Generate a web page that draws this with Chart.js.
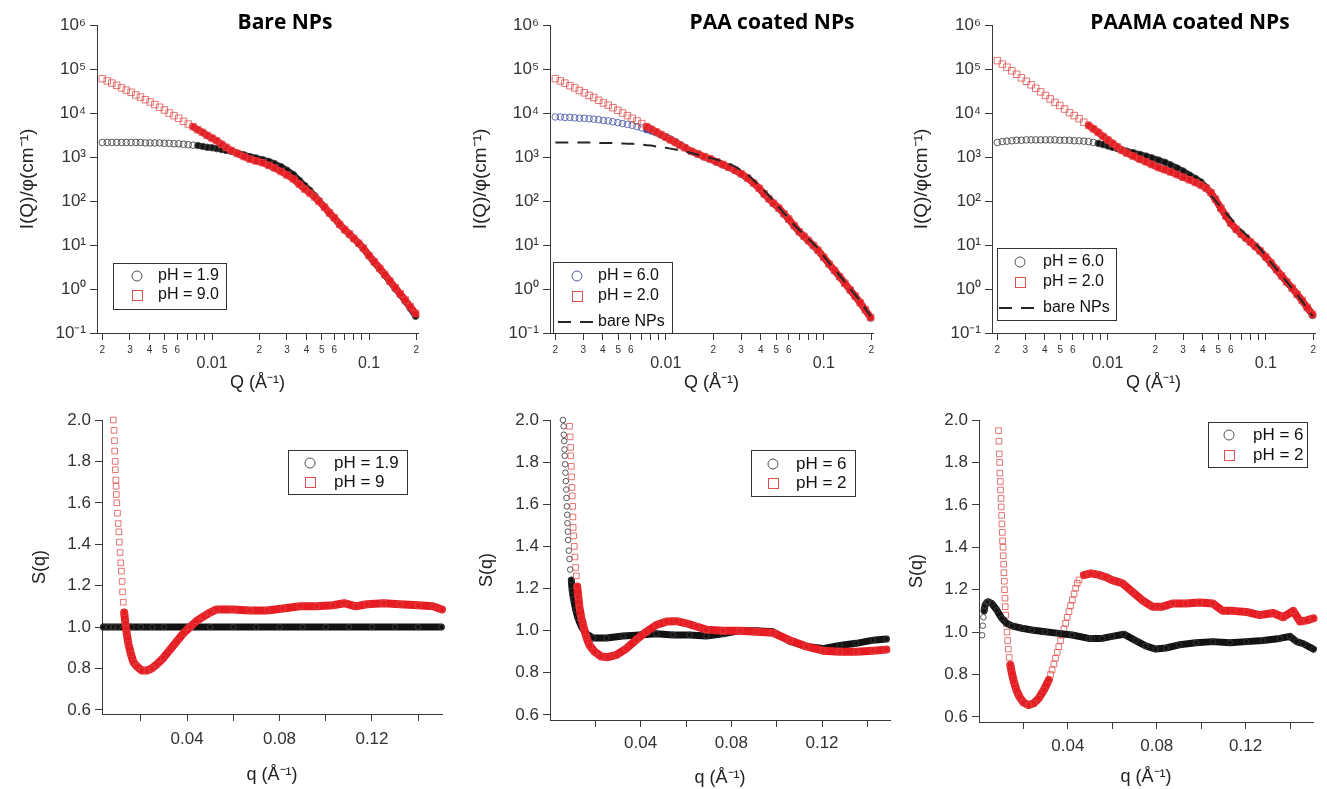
<!DOCTYPE html>
<html><head><meta charset="utf-8">
<script src="https://cdn.jsdelivr.net/npm/chart.js@4.4.1/dist/chart.umd.min.js"></script>
<style>
html,body{margin:0;padding:0;background:#fff;}
#wrap{position:relative;width:1327px;height:789px;overflow:hidden;background:#fff;}
canvas{position:absolute;left:0;top:0;}
</style></head><body><div id="wrap">
<canvas id="c1" width="1327" height="789"></canvas>
<canvas id="c2" width="1327" height="789"></canvas>
<canvas id="c3" width="1327" height="789"></canvas>
<canvas id="c4" width="1327" height="789"></canvas>
<canvas id="c5" width="1327" height="789"></canvas>
<canvas id="c6" width="1327" height="789"></canvas>
</div>
<script>
// ---------------- DATA ----------------
const PANEL_TITLES = ['Bare NPs', 'PAA coated NPs', 'PAAMA coated NPs'];

// Top row: I(Q)/phi vs Q
const Q_TOP = [0.00200,0.00215,0.00230,0.00247,0.00265,0.00284,0.00305,0.00327,0.00350,0.00376,0.00403,0.00432,0.00463,0.00497,0.00533,0.00572,0.00613,0.00658,0.00705,0.00756,0.00811,0.00870,0.00933,0.0100,0.0107,0.0115,0.0123,0.0132,0.0145,0.0160,0.0175,0.0190,0.0210,0.0230,0.0250,0.0275,0.0300,0.0330,0.0360,0.0390,0.0420,0.0450,0.0480,0.0520,0.0560,0.0600,0.0650,0.0700,0.0750,0.0800,0.0860,0.0920,0.1000,0.1080,0.1170,0.1260,0.1360,0.1470,0.1580,0.1700,0.1830,0.1980];
const BARE_PH19 = [2140,2140,2140,2140,2140,2140,2140,2140,2140,2090,2090,2090,2090,2040,2040,2000,2000,1950,1910,1860,1820,1740,1660,1620,1550,1480,1410,1350,1230,1120,1020,955,871,794,708,603,501,398,295,224,174,132,102,72.4,52.5,40.7,28.8,21.9,17.4,13.8,10.7,8.32,5.62,3.98,2.82,2.04,1.45,1.02,0.741,0.525,0.363,0.240];
const BARE_PH90 = [60300,53700,47900,42700,37200,33100,29500,25700,22900,20000,17800,15500,13500,11700,10000,8710,7590,6460,5620,4900,4170,3630,3090,2690,2340,1950,1660,1410,1200,1020,891,813,741,646,562,468,389,316,240,186,151,123,97.7,72.4,53.7,41.7,29.5,22.4,17.8,14.1,11.0,8.51,5.75,4.17,2.95,2.14,1.51,1.07,0.776,0.562,0.398,0.275];
const PAA_PH60 = [8130,8130,7940,7940,7760,7590,7590,7410,7240,7080,6760,6610,6310,6030,5750,5500,5250,4900,4570,4170,3890,3550,3160,2880,2570,2240,1910,1660,1320,1150,1000,891,759,661,575,490,407,324,251,191,141,110,87.1,67.6,50.1,38.0,26.9,19.5,15.5,12.3,9.55,7.41,5.13,3.63,2.57,1.86,1.32,0.933,0.676,0.479,0.331,0.219];
const PAA_PH20 = [60300,53700,47900,41700,37200,32400,28800,25100,22400,19500,17000,15100,13200,11500,10000,8710,7590,6610,5750,4900,4270,3720,3240,2820,2450,2140,1860,1620,1350,1170,1020,912,776,676,589,501,417,331,257,195,145,112,89.1,69.2,51.3,38.9,27.5,20.0,15.8,12.6,9.77,7.59,5.25,3.72,2.63,1.91,1.35,0.955,0.692,0.490,0.339,0.224];
const PAAMA_PH60 = [2140,2240,2290,2340,2400,2400,2450,2450,2450,2450,2450,2450,2450,2400,2400,2400,2340,2340,2290,2240,2140,2040,1910,1780,1660,1550,1450,1350,1260,1150,1050,955,851,759,661,562,479,389,324,269,204,155,110,66.1,44.7,30.9,22.4,17.4,14.1,11.5,9.12,7.24,5.25,3.80,2.69,1.95,1.41,1.02,0.741,0.537,0.372,0.251];
const PAAMA_PH20 = [155000,129000,110000,91200,75900,63100,52500,43700,36300,30200,25100,20900,17400,14800,12300,10200,8710,7410,6170,5250,4370,3630,2950,2450,2040,1700,1410,1230,1050,891,776,676,575,513,457,398,347,302,263,229,195,155,110,69.2,45.7,31.6,22.9,17.8,14.5,11.7,9.33,7.41,5.37,3.89,2.75,2.00,1.45,1.05,0.759,0.550,0.380,0.263];
const BARE_NPS_REF = BARE_PH19;

// Bottom row: S(q) vs q
const SQ_BARE_Q19 = [0.0038,0.0060,0.0080,0.0100,0.0130,0.0160,0.0200,0.0250,0.0300,0.0400,0.0500,0.0600,0.0700,0.0800,0.0900,0.1000,0.1100,0.1200,0.1300,0.1400,0.1500];
const SQ_BARE_S19 = [1.00,1.00,1.00,1.00,1.00,1.00,1.00,1.00,1.00,1.00,1.00,1.00,1.00,1.00,1.00,1.00,1.00,1.00,1.00,1.00,1.00];
const SQ_BARE_Q9 = [0.0081,0.0084,0.0086,0.0087,0.0089,0.0090,0.0092,0.0093,0.0094,0.0096,0.0099,0.0102,0.0105,0.0107,0.0110,0.0113,0.0116,0.0119,0.0121,0.0124,0.0128,0.0133,0.0139,0.0146,0.0157,0.0168,0.0183,0.0204,0.0226,0.0247,0.0269,0.0297,0.0326,0.0355,0.0384,0.0413,0.0442,0.0470,0.0499,0.0528,0.0599,0.0672,0.0746,0.0815,0.0889,0.0960,0.1031,0.1080,0.1130,0.1178,0.1250,0.1321,0.1400,0.1464,0.1503];
const SQ_BARE_S9 = [2.00,1.95,1.90,1.85,1.80,1.76,1.71,1.68,1.64,1.60,1.55,1.50,1.46,1.41,1.36,1.31,1.27,1.22,1.17,1.12,1.07,1.02,0.97,0.92,0.87,0.83,0.81,0.79,0.79,0.80,0.82,0.85,0.89,0.93,0.97,1.00,1.03,1.05,1.07,1.085,1.085,1.08,1.08,1.09,1.10,1.10,1.105,1.115,1.10,1.11,1.115,1.11,1.105,1.10,1.085];
const SQ_PAA_Q6 = [0.0057,0.0060,0.0061,0.0063,0.0064,0.0065,0.0067,0.0068,0.0070,0.0072,0.0073,0.0074,0.0076,0.0077,0.0079,0.0080,0.0083,0.0086,0.0089,0.0094,0.0098,0.0104,0.0113,0.0123,0.0138,0.0160,0.0190,0.0249,0.0322,0.0396,0.0469,0.0543,0.0616,0.0690,0.0763,0.0837,0.0910,0.0984,0.1057,0.1131,0.1204,0.1278,0.1351,0.1425,0.1484];
const SQ_PAA_S6 = [2.00,1.97,1.93,1.90,1.86,1.83,1.79,1.75,1.71,1.67,1.63,1.59,1.55,1.51,1.47,1.43,1.38,1.34,1.29,1.24,1.19,1.15,1.10,1.06,1.02,0.985,0.965,0.965,0.975,0.98,0.985,0.98,0.98,0.975,0.985,1.00,1.00,0.995,0.95,0.925,0.915,0.93,0.94,0.955,0.96];
const SQ_PAA_Q2 = [0.0086,0.0089,0.0091,0.0092,0.0094,0.0095,0.0097,0.0098,0.0100,0.0101,0.0102,0.0104,0.0107,0.0110,0.0113,0.0116,0.0120,0.0125,0.0130,0.0138,0.0148,0.0160,0.0175,0.0197,0.0226,0.0255,0.0293,0.0337,0.0381,0.0425,0.0469,0.0514,0.0557,0.0601,0.0646,0.0690,0.0763,0.0837,0.0910,0.0984,0.1057,0.1131,0.1204,0.1278,0.1351,0.1425,0.1484];
const SQ_PAA_S2 = [1.97,1.92,1.87,1.83,1.78,1.73,1.68,1.64,1.59,1.54,1.49,1.45,1.40,1.35,1.30,1.26,1.21,1.16,1.11,1.06,1.02,0.97,0.93,0.90,0.877,0.874,0.885,0.915,0.957,0.995,1.027,1.043,1.045,1.035,1.02,1.005,1.00,1.00,0.995,0.99,0.955,0.925,0.905,0.90,0.90,0.905,0.91];
const SQ_PAAMA_Q6 = [0.0014,0.0017,0.0020,0.0023,0.0027,0.0035,0.0042,0.0057,0.0080,0.0102,0.0125,0.0148,0.0193,0.0238,0.0298,0.0359,0.0419,0.0494,0.0509,0.0554,0.0599,0.0652,0.0705,0.0750,0.0795,0.0841,0.0901,0.0977,0.1052,0.1128,0.1203,0.1278,0.1354,0.1399,0.1429,0.1460,0.1505];
const SQ_PAAMA_S6 = [0.985,1.03,1.07,1.10,1.125,1.14,1.143,1.135,1.104,1.065,1.041,1.029,1.018,1.01,1.002,0.994,0.986,0.97,0.97,0.97,0.98,0.99,0.96,0.935,0.92,0.925,0.94,0.95,0.955,0.95,0.955,0.96,0.97,0.98,0.955,0.945,0.92];
const SQ_PAAMA_Q2 = [0.0088,0.0090,0.0091,0.0093,0.0094,0.0096,0.0097,0.0099,0.0100,0.0102,0.0103,0.0105,0.0106,0.0108,0.0109,0.0111,0.0112,0.0114,0.0115,0.0117,0.0118,0.0120,0.0123,0.0126,0.0129,0.0132,0.0136,0.0141,0.0148,0.0157,0.0168,0.0182,0.0201,0.0224,0.0246,0.0269,0.0292,0.0314,0.0322,0.0329,0.0337,0.0344,0.0352,0.0359,0.0367,0.0374,0.0382,0.0390,0.0397,0.0405,0.0412,0.0420,0.0428,0.0435,0.0442,0.0450,0.0472,0.0503,0.0539,0.0569,0.0599,0.0645,0.0690,0.0735,0.0780,0.0826,0.0871,0.0931,0.0992,0.1052,0.1097,0.1143,0.1203,0.1263,0.1324,0.1369,0.1414,0.1445,0.1475,0.1505];
const SQ_PAAMA_S2 = [1.95,1.90,1.84,1.80,1.75,1.71,1.67,1.63,1.59,1.55,1.51,1.47,1.43,1.40,1.36,1.32,1.28,1.24,1.20,1.16,1.12,1.08,1.04,1.00,0.96,0.92,0.88,0.845,0.805,0.766,0.727,0.695,0.667,0.656,0.664,0.688,0.727,0.774,0.80,0.821,0.85,0.876,0.905,0.931,0.96,0.986,1.015,1.041,1.07,1.096,1.125,1.151,1.18,1.207,1.23,1.246,1.269,1.277,1.27,1.26,1.245,1.23,1.19,1.15,1.12,1.12,1.135,1.135,1.14,1.135,1.10,1.10,1.095,1.08,1.09,1.07,1.10,1.05,1.055,1.065];

// Ticks
const TOP_X_TICKS = [0.002,0.003,0.004,0.005,0.006,0.007,0.008,0.009,0.01,0.02,0.03,0.04,0.05,0.06,0.07,0.08,0.09,0.1,0.2];
const TOP_X_LABELS = ['2','3','4','5','6','','','',['','0.01'],'2','3','4','5','6','','','',['','0.1'],'2'];
const TOP_Y_TICKS = [0.1,1,10,100,1000,10000,100000,1000000];
const TOP_Y_LABELS = ['10\u207B\u00B9','10\u2070','10\u00B9','10\u00B2','10\u00B3','10\u2074','10\u2075','10\u2076'];
const SQ_X_TICKS = [0.02,0.04,0.06,0.08,0.10,0.12,0.14];
const SQ_X_LABELS = ['','0.04','','0.08','','0.12',''];
const SQ_Y_TICKS = [0.6,0.8,1.0,1.2,1.4,1.6,1.8,2.0];
const SQ_Y_LABELS = ['0.6','0.8','1.0','1.2','1.4','1.6','1.8','2.0'];

// ---------------- STYLE / HELPERS ----------------
const W = 1327, H = 789;
const FONT = '"Liberation Sans", Arial, sans-serif';
const AXIS = '#3a3a3a';
const RED_M = 'rgba(222,70,70,0.75)', RED_B = 'rgb(230,28,34)';
const BLK_M = 'rgba(60,60,60,0.85)', BLK_B = 'rgb(18,18,18)';
const BLU_M = 'rgba(70,85,165,0.85)', BLU_B = 'rgb(62,76,152)';
const LEG_RED = 'rgb(222,80,80)', LEG_BLK = 'rgb(80,80,80)', LEG_BLU = 'rgb(80,92,170)';

function pts(xs, ys) { return xs.map((x, i) => ({x: x, y: ys[i]})); }
function bandColor(xs, ranges, color) {
  return ctx => {
    const a = xs[ctx.p0DataIndex], b = xs[ctx.p1DataIndex];
    for (const r of ranges) if (a >= r[0] && b <= r[1]) return color;
    return 'rgba(0,0,0,0)';
  };
}
function series(label, xs, ys, o) {
  return {
    label: label, data: pts(xs, ys), order: o.order, clip: 7,
    pointStyle: o.rect ? 'rect' : 'circle', pointRadius: o.r, pointHoverRadius: o.r,
    pointBorderWidth: 1, pointBorderColor: o.marker, pointBackgroundColor: 'rgba(0,0,0,0)',
    showLine: true, tension: 0, fill: false, borderWidth: o.bw, borderColor: o.band,
    borderCapStyle: 'round', borderJoinStyle: 'round',
    segment: { borderColor: bandColor(xs, o.ranges, o.band) }
  };
}
function dashed(label, xs, ys, order, ranges) {
  return {
    label: label, data: pts(xs, ys), order: order, pointRadius: 0, pointHoverRadius: 0,
    showLine: true, tension: 0, fill: false, borderWidth: 2, borderColor: '#262626',
    borderDash: [13, 9], segment: { borderColor: bandColor(xs, ranges, '#262626') }
  };
}
function decor(cfg) {
  return { id: 'decor', afterDraw(chart) {
    const c = chart.ctx; c.save();
    if (cfg.title) {
      c.font = 'bold 21px "Open Sans", sans-serif'; c.fillStyle = '#000';
      c.textAlign = 'center'; c.textBaseline = 'middle';
      c.fillText(cfg.title.text, cfg.title.x, cfg.title.y);
    }
    const L = cfg.legend;
    c.fillStyle = '#fff'; c.fillRect(L.box[0], L.box[1], L.box[2], L.box[3]);
    c.strokeStyle = '#333'; c.lineWidth = 1;
    c.strokeRect(L.box[0] + 0.5, L.box[1] + 0.5, L.box[2], L.box[3]);
    c.font = L.font; c.textAlign = 'left'; c.textBaseline = 'middle';
    L.rows.forEach(r => {
      const ds = chart.data.datasets[r.ds];
      c.strokeStyle = r.color; c.lineWidth = 1;
      if (r.kind === 'circle') { c.beginPath(); c.arc(L.mx, r.y, 5, 0, 2 * Math.PI); c.stroke(); }
      else if (r.kind === 'rect') { c.strokeRect(L.mx - 5 + 0.5, r.y - 5 + 0.5, 10, 10); }
      else { c.lineWidth = 2; c.setLineDash([13, 9]); c.beginPath(); c.moveTo(L.dash[0], r.y); c.lineTo(L.dash[1], r.y); c.stroke(); c.setLineDash([]); }
      c.fillStyle = '#111'; c.fillText(ds.label, L.tx, r.y);
    });
    c.restore();
  }};
}
function axisCommon() {
  return { grid: { drawOnChartArea: false, drawTicks: true, tickLength: 7, color: AXIS, lineWidth: 1 },
           border: { display: true, color: AXIS, width: 1 } };
}
function makeChart(id, p, datasets, scales) {
  return new Chart(document.getElementById(id), {
    type: 'line',
    data: { datasets: datasets },
    options: {
      responsive: false, animation: false, events: [], normalized: true,
      layout: { autoPadding: false, padding: { left: p.l - p.yW, top: p.t, right: W - p.r, bottom: H - p.b - p.xH } },
      plugins: { legend: { display: false }, tooltip: { enabled: false }, title: { display: false } },
      scales: scales
    },
    plugins: [decor(p)]
  });
}
function topScales(p) {
  const ax = axisCommon(), ay = axisCommon();
  return {
    x: Object.assign(ax, {
      type: 'logarithmic', min: p.xmin, max: p.xmax, bounds: 'data',
      afterBuildTicks: s => { s.ticks = TOP_X_TICKS.map(v => ({value: v})); },
      afterFit: s => { s.height = p.xH; s.paddingLeft = 0; s.paddingRight = 0; },
      ticks: { autoSkip: false, maxRotation: 0, minRotation: 0, padding: 4, color: '#333',
        font: ctx => Array.isArray(TOP_X_LABELS[ctx.index]) ? {family: FONT, size: 16, lineHeight: 0.8} : {family: FONT, size: 10, lineHeight: 1.2},
        callback: (v, i) => TOP_X_LABELS[i] },
      title: { display: true, text: 'Q (\u00C5\u207B\u00B9)', color: '#222', padding: 0, font: {family: FONT, size: 18, lineHeight: 1.2} }
    }),
    y: Object.assign(ay, {
      type: 'logarithmic', min: 0.1, max: 1000000, bounds: 'data',
      afterBuildTicks: s => { s.ticks = TOP_Y_TICKS.map(v => ({value: v})); },
      afterFit: s => { s.width = p.yW; s.paddingTop = 0; s.paddingBottom = 0; },
      ticks: { autoSkip: false, padding: 4, color: '#333', font: {family: FONT, size: 17},
        callback: (v, i) => TOP_Y_LABELS[i] },
      title: { display: true, text: 'I(Q)/\u03C6(cm\u207B\u00B9)', color: '#222', padding: 0, font: {family: FONT, size: 19, lineHeight: 1.2} }
    })
  };
}
function sqScales(p) {
  const ax = axisCommon(), ay = axisCommon();
  return {
    x: Object.assign(ax, {
      type: 'linear', min: p.xmin, max: p.xmax, bounds: 'data',
      afterBuildTicks: s => { s.ticks = SQ_X_TICKS.map(v => ({value: v})); },
      afterFit: s => { s.height = p.xH; s.paddingLeft = 0; s.paddingRight = 0; },
      ticks: { autoSkip: false, maxRotation: 0, minRotation: 0, padding: p.xpad, color: '#333',
        font: {family: FONT, size: 17}, callback: (v, i) => SQ_X_LABELS[i] },
      title: { display: true, text: 'q (\u00C5\u207B\u00B9)', color: '#222', padding: 0, font: {family: FONT, size: 18, lineHeight: 1.2} }
    }),
    y: Object.assign(ay, {
      type: 'linear', min: p.ymin, max: 2.0, bounds: 'data',
      afterBuildTicks: s => { s.ticks = SQ_Y_TICKS.map(v => ({value: v})); },
      afterFit: s => { s.width = p.yW; s.paddingTop = 0; s.paddingBottom = 0; },
      ticks: { autoSkip: false, padding: 4, color: '#333', font: {family: FONT, size: 17},
        callback: (v, i) => SQ_Y_LABELS[i] },
      title: { display: true, text: 'S(q)', color: '#222', padding: 0, font: {family: FONT, size: 18, lineHeight: 1.2} }
    })
  };
}

// ---------------- PANELS ----------------
const TOPR = [[0.0075, 0.25]];
const P1 = { l: 97, t: 25, r: 418, b: 333, yW: 81, xH: 61, xmin: 0.00185, xmax: 0.205,
  title: {text: PANEL_TITLES[0], x: 285, y: 23},
  legend: { box: [113, 263, 113, 46], font: '16px ' + FONT, mx: 137, tx: 158,
    rows: [{ds: 0, kind: 'circle', color: LEG_BLK, y: 276}, {ds: 1, kind: 'rect', color: LEG_RED, y: 295}] } };
makeChart('c1', P1, [
  series('pH = 1.9', Q_TOP, BARE_PH19, {order: 2, r: 3.3, marker: BLK_M, band: BLK_B, bw: 6, ranges: [[0.0078, 0.25]]}),
  series('pH = 9.0', Q_TOP, BARE_PH90, {order: 1, rect: true, r: 4.6, marker: RED_M, band: RED_B, bw: 7, ranges: TOPR})
], topScales(P1));

const P2 = { l: 550, t: 25, r: 873, b: 333, yW: 81, xH: 61, xmin: 0.00185, xmax: 0.205,
  title: {text: PANEL_TITLES[1], x: 772, y: 23},
  legend: { box: [553, 262, 119, 71], font: '16px ' + FONT, mx: 577, tx: 598, dash: [558, 593],
    rows: [{ds: 0, kind: 'circle', color: LEG_BLU, y: 276}, {ds: 1, kind: 'rect', color: LEG_RED, y: 296}, {ds: 2, kind: 'dash', color: '#262626', y: 322}] } };
makeChart('c2', P2, [
  series('pH = 6.0', Q_TOP, PAA_PH60, {order: 3, r: 3.3, marker: BLU_M, band: BLU_B, bw: 6, ranges: [[0.0072, 0.25]]}),
  series('pH = 2.0', Q_TOP, PAA_PH20, {order: 2, rect: true, r: 4.6, marker: RED_M, band: RED_B, bw: 7, ranges: TOPR}),
  dashed('bare NPs', Q_TOP, BARE_NPS_REF, 1, [[0, 0.25]])
], topScales(P2));

const P3 = { l: 992, t: 25, r: 1315, b: 333, yW: 82, xH: 61, xmin: 0.00185, xmax: 0.205,
  title: {text: PANEL_TITLES[2], x: 1190, y: 23},
  legend: { box: [997, 248, 119, 72], font: '16px ' + FONT, mx: 1020, tx: 1043, dash: [999, 1034],
    rows: [{ds: 0, kind: 'circle', color: LEG_BLK, y: 262}, {ds: 1, kind: 'rect', color: LEG_RED, y: 282}, {ds: 2, kind: 'dash', color: '#262626', y: 308}] } };
makeChart('c3', P3, [
  series('pH = 6.0', Q_TOP, PAAMA_PH60, {order: 3, r: 3.3, marker: BLK_M, band: BLK_B, bw: 6, ranges: [[0.0085, 0.25]]}),
  series('pH = 2.0', Q_TOP, PAAMA_PH20, {order: 2, rect: true, r: 4.6, marker: RED_M, band: RED_B, bw: 7, ranges: TOPR}),
  dashed('bare NPs', Q_TOP, BARE_NPS_REF, 1, [[0.044, 0.25]])
], topScales(P3));

const P4 = { l: 102, t: 420, r: 442, b: 714, yW: 73, xH: 72, xmin: 0.0032, xmax: 0.1503, ymin: 0.580, xpad: 8,
  legend: { box: [288, 450, 119, 44], font: '17px ' + FONT, mx: 310, tx: 334,
    rows: [{ds: 0, kind: 'circle', color: LEG_BLK, y: 463}, {ds: 1, kind: 'rect', color: LEG_RED, y: 482}] } };
makeChart('c4', P4, [
  series('pH = 1.9', SQ_BARE_Q19, SQ_BARE_S19, {order: 2, r: 2.8, marker: BLK_M, band: BLK_B, bw: 7, ranges: [[0, 0.16]]}),
  series('pH = 9', SQ_BARE_Q9, SQ_BARE_S9, {order: 1, rect: true, r: 4.0, marker: RED_M, band: RED_B, bw: 8, ranges: [[0.0127, 0.16]]})
], sqScales(P4));

const P5 = { l: 550, t: 420, r: 890, b: 720, yW: 74, xH: 69, xmin: 0, xmax: 0.150, ymin: 0.576, xpad: 6,
  legend: { box: [751, 450, 104, 46], font: '17px ' + FONT, mx: 773, tx: 796,
    rows: [{ds: 0, kind: 'circle', color: LEG_BLK, y: 464}, {ds: 1, kind: 'rect', color: LEG_RED, y: 483}] } };
makeChart('c5', P5, [
  series('pH = 6', SQ_PAA_Q6, SQ_PAA_S6, {order: 2, r: 2.8, marker: BLK_M, band: BLK_B, bw: 7, ranges: [[0.0093, 0.16]]}),
  series('pH = 2', SQ_PAA_Q2, SQ_PAA_S2, {order: 1, rect: true, r: 4.0, marker: RED_M, band: RED_B, bw: 8, ranges: [[0.0119, 0.16]]})
], sqScales(P5));

const P6 = { l: 979, t: 420, r: 1313, b: 722, yW: 73, xH: 66, xmin: 0, xmax: 0.1503, ymin: 0.576, xpad: 7,
  legend: { box: [1208, 422, 99, 45], font: '17px ' + FONT, mx: 1229, tx: 1253,
    rows: [{ds: 0, kind: 'circle', color: LEG_BLK, y: 435}, {ds: 1, kind: 'rect', color: LEG_RED, y: 455}] } };
makeChart('c6', P6, [
  series('pH = 6', SQ_PAAMA_Q6, SQ_PAAMA_S6, {order: 1, r: 2.8, marker: BLK_M, band: BLK_B, bw: 7, ranges: [[0.0022, 0.16]]}),
  series('pH = 2', SQ_PAAMA_Q2, SQ_PAAMA_S2, {order: 2, rect: true, r: 4.0, marker: RED_M, band: RED_B, bw: 8, ranges: [[0.0140, 0.0316], [0.0465, 0.16]]})
], sqScales(P6));
</script>
</body></html>
